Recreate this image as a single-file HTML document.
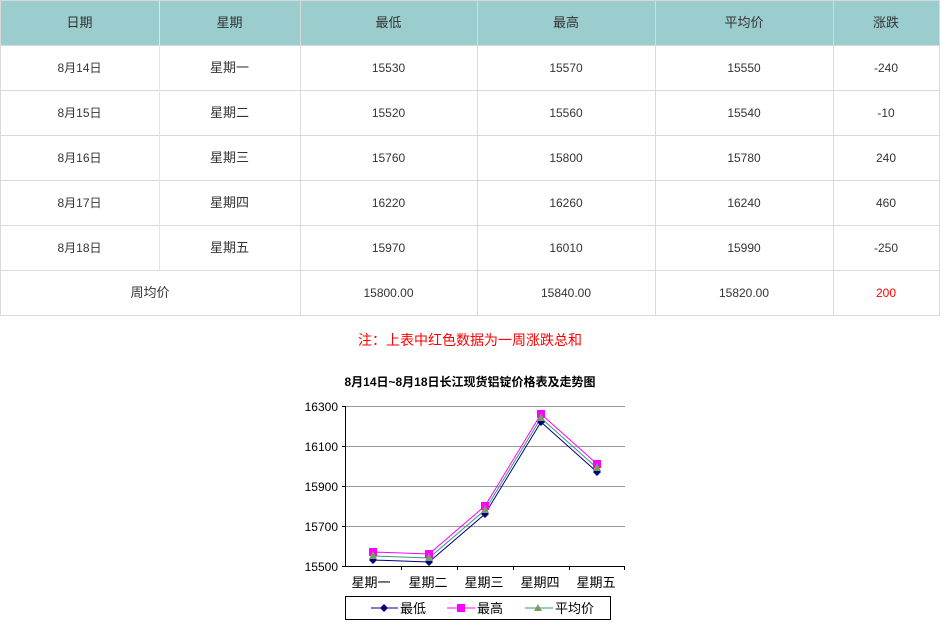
<!DOCTYPE html>
<html><head><meta charset="utf-8"><style>
body{margin:0;background:#fff;width:946px;height:640px;overflow:hidden;position:relative;font-family:"Liberation Sans","Noto Sans CJK SC",sans-serif;}
.hd{position:absolute;left:0;top:0;width:940px;height:45px;background:#9bcdce;}
.hl{position:absolute;height:1px;background:#d9d9d9;}
.vl{position:absolute;width:1px;background:#d9d9d9;}
.t{position:absolute;text-align:center;font-size:12px;color:#333;line-height:16px;}
.h{font-size:13px;color:#333;}
</style></head><body>
<div class="hd"></div>
<!-- horizontal lines -->
<div class="hl" style="left:0;top:0;width:940px"></div>
<div class="hl" style="left:0;top:45px;width:940px"></div>
<div class="hl" style="left:0;top:90px;width:940px"></div>
<div class="hl" style="left:0;top:135px;width:940px"></div>
<div class="hl" style="left:0;top:180px;width:940px"></div>
<div class="hl" style="left:0;top:225px;width:940px"></div>
<div class="hl" style="left:0;top:270px;width:940px"></div>
<div class="hl" style="left:0;top:315px;width:940px"></div>
<!-- vertical lines -->
<div class="vl" style="left:0;top:0;height:316px"></div>
<div class="vl" style="left:159px;top:0;height:270px;background:#e4e4e4"></div>
<div class="vl" style="left:300px;top:0;height:316px"></div>
<div class="vl" style="left:477px;top:0;height:316px"></div>
<div class="vl" style="left:655px;top:0;height:316px"></div>
<div class="vl" style="left:833px;top:0;height:316px"></div>
<div class="vl" style="left:939px;top:0;height:316px"></div>

<!-- header -->
<div class="t h" style="left:0;width:159px;top:15px">日期</div>
<div class="t h" style="left:159px;width:141px;top:15px">星期</div>
<div class="t h" style="left:300px;width:177px;top:15px">最低</div>
<div class="t h" style="left:477px;width:178px;top:15px">最高</div>
<div class="t h" style="left:655px;width:178px;top:15px">平均价</div>
<div class="t h" style="left:833px;width:106px;top:15px">涨跌</div>

<!-- rows -->
<div class="t" style="left:0;width:159px;top:60px">8月14日</div>
<div class="t h" style="left:159px;width:141px;top:60px">星期一</div>
<div class="t" style="left:300px;width:177px;top:60px">15530</div>
<div class="t" style="left:477px;width:178px;top:60px">15570</div>
<div class="t" style="left:655px;width:178px;top:60px">15550</div>
<div class="t" style="left:833px;width:106px;top:60px">-240</div>

<div class="t" style="left:0;width:159px;top:105px">8月15日</div>
<div class="t h" style="left:159px;width:141px;top:105px">星期二</div>
<div class="t" style="left:300px;width:177px;top:105px">15520</div>
<div class="t" style="left:477px;width:178px;top:105px">15560</div>
<div class="t" style="left:655px;width:178px;top:105px">15540</div>
<div class="t" style="left:833px;width:106px;top:105px">-10</div>

<div class="t" style="left:0;width:159px;top:150px">8月16日</div>
<div class="t h" style="left:159px;width:141px;top:150px">星期三</div>
<div class="t" style="left:300px;width:177px;top:150px">15760</div>
<div class="t" style="left:477px;width:178px;top:150px">15800</div>
<div class="t" style="left:655px;width:178px;top:150px">15780</div>
<div class="t" style="left:833px;width:106px;top:150px">240</div>

<div class="t" style="left:0;width:159px;top:195px">8月17日</div>
<div class="t h" style="left:159px;width:141px;top:195px">星期四</div>
<div class="t" style="left:300px;width:177px;top:195px">16220</div>
<div class="t" style="left:477px;width:178px;top:195px">16260</div>
<div class="t" style="left:655px;width:178px;top:195px">16240</div>
<div class="t" style="left:833px;width:106px;top:195px">460</div>

<div class="t" style="left:0;width:159px;top:240px">8月18日</div>
<div class="t h" style="left:159px;width:141px;top:240px">星期五</div>
<div class="t" style="left:300px;width:177px;top:240px">15970</div>
<div class="t" style="left:477px;width:178px;top:240px">16010</div>
<div class="t" style="left:655px;width:178px;top:240px">15990</div>
<div class="t" style="left:833px;width:106px;top:240px">-250</div>

<div class="t h" style="left:0;width:300px;top:285px">周均价</div>
<div class="t" style="left:300px;width:177px;top:285px">15800.00</div>
<div class="t" style="left:477px;width:178px;top:285px">15840.00</div>
<div class="t" style="left:655px;width:178px;top:285px">15820.00</div>
<div class="t" style="left:833px;width:106px;top:285px;color:#f00">200</div>

<div class="t" style="left:0;width:940px;top:331px;font-size:14px;color:#f00;line-height:18px">注：上表中红色数据为一周涨跌总和</div>

<svg style="position:absolute;left:0;top:0" width="946" height="640" font-family="'Liberation Sans','Noto Sans CJK SC',sans-serif">
<text x="470" y="386" text-anchor="middle" font-size="12" font-weight="bold" fill="#000">8月14日~8月18日长江现货铝锭价格表及走势图</text>
<g stroke="#999" stroke-width="1">
<line x1="345" y1="406.5" x2="625" y2="406.5"/>
<line x1="345" y1="446.5" x2="625" y2="446.5"/>
<line x1="345" y1="486.5" x2="625" y2="486.5"/>
<line x1="345" y1="526.5" x2="625" y2="526.5"/>
</g>
<g stroke="#000" stroke-width="1">
<line x1="345.5" y1="406" x2="345.5" y2="567"/>
<line x1="342" y1="406.5" x2="345" y2="406.5"/>
<line x1="342" y1="446.5" x2="345" y2="446.5"/>
<line x1="342" y1="486.5" x2="345" y2="486.5"/>
<line x1="342" y1="526.5" x2="345" y2="526.5"/>
<line x1="342" y1="566.5" x2="625" y2="566.5"/>
<line x1="401.5" y1="566" x2="401.5" y2="570"/>
<line x1="457.5" y1="566" x2="457.5" y2="570"/>
<line x1="513.5" y1="566" x2="513.5" y2="570"/>
<line x1="569.5" y1="566" x2="569.5" y2="570"/>
<line x1="624.5" y1="566" x2="624.5" y2="570"/>
</g>
<g font-size="12" fill="#000" text-anchor="end">
<text x="338" y="411">16300</text>
<text x="338" y="451">16100</text>
<text x="338" y="491">15900</text>
<text x="338" y="531">15700</text>
<text x="338" y="571">15500</text>
</g>
<g font-size="13" fill="#000" text-anchor="middle">
<text x="371" y="587">星期一</text>
<text x="428" y="587">星期二</text>
<text x="484" y="587">星期三</text>
<text x="540" y="587">星期四</text>
<text x="596" y="587">星期五</text>
</g>
<!-- series -->
<polyline fill="none" stroke="#ff00ff" stroke-width="1" points="373,552 429,554 485,506 541,414 597,464"/>
<polyline fill="none" stroke="#339980" stroke-width="1" points="373,556 429,558 485,510 541,418 597,468"/>
<polyline fill="none" stroke="#000080" stroke-width="1" points="373,560 429,562 485,514 541,422 597,472"/>
<g fill="#000080">
<polygon points="373,556 377,560 373,564 369,560"/>
<polygon points="429,558 433,562 429,566 425,562"/>
<polygon points="485,510 489,514 485,518 481,514"/>
<polygon points="541,418 545,422 541,426 537,422"/>
<polygon points="597,468 601,472 597,476 593,472"/>
</g>
<g fill="#ff00ff">
<rect x="369" y="548" width="8" height="8"/>
<rect x="425" y="550" width="8" height="8"/>
<rect x="481" y="502" width="8" height="8"/>
<rect x="537" y="410" width="8" height="8"/>
<rect x="593" y="460" width="8" height="8"/>
</g>
<g fill="#77a060">
<polygon points="373,551 377,559 369,559"/>
<polygon points="429,553 433,561 425,561"/>
<polygon points="485,505 489,513 481,513"/>
<polygon points="541,413 545,421 537,421"/>
<polygon points="597,463 601,471 593,471"/>
</g>
<!-- legend -->
<rect x="345.5" y="596.5" width="265" height="23" fill="#fff" stroke="#000" stroke-width="1"/>
<line x1="371" y1="608" x2="398" y2="608" stroke="#000080"/>
<polygon points="384,604 388,608 384,612 380,608" fill="#000080"/>
<text x="400" y="613" font-size="13">最低</text>
<line x1="447" y1="608" x2="475" y2="608" stroke="#ff00ff"/>
<rect x="457" y="604" width="8" height="8" fill="#ff00ff"/>
<text x="477" y="613" font-size="13">最高</text>
<line x1="525" y1="608" x2="553" y2="608" stroke="#339980"/>
<polygon points="538,604 542,611 534,611" fill="#77a060"/>
<text x="555" y="613" font-size="13">平均价</text>
</svg>
</body></html>
